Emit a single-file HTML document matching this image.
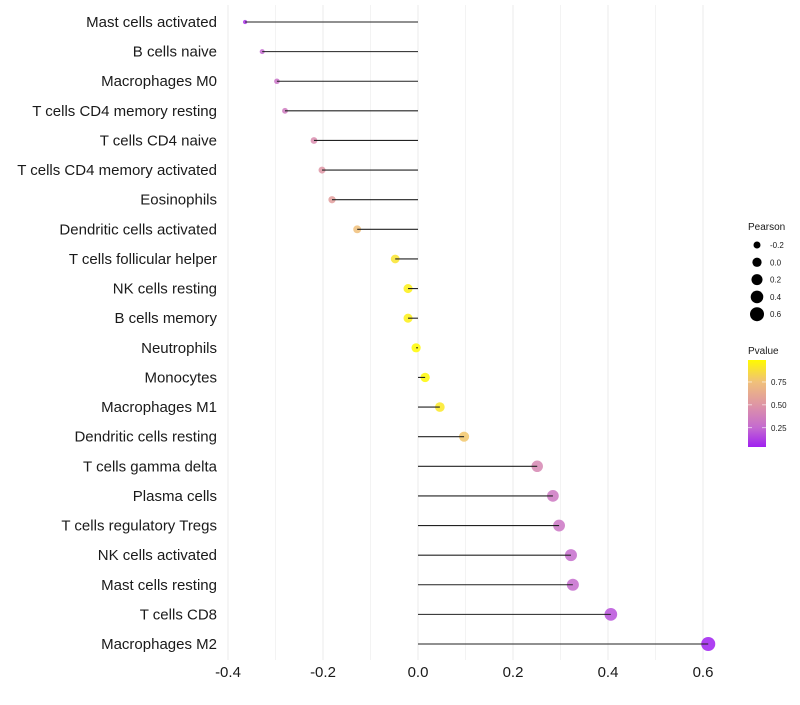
<!DOCTYPE html>
<html><head><meta charset="utf-8"><style>
body{margin:0;background:#fff;font-family:"Liberation Sans",sans-serif}
</style></head><body>
<svg id="chart" width="800" height="700" xmlns="http://www.w3.org/2000/svg" font-family="Liberation Sans, sans-serif"></svg>
<script>
const categories=["Mast cells activated","B cells naive","Macrophages M0","T cells CD4 memory resting","T cells CD4 naive","T cells CD4 memory activated","Eosinophils","Dendritic cells activated","T cells follicular helper","NK cells resting","B cells memory","Neutrophils","Monocytes","Macrophages M1","Dendritic cells resting","T cells gamma delta","Plasma cells","T cells regulatory  Tregs ","NK cells activated","Mast cells resting","T cells CD8","Macrophages M2"];
const pearson=[-0.364,-0.328,-0.297,-0.28,-0.219,-0.202,-0.181,-0.128,-0.048,-0.021,-0.021,-0.004,0.015,0.046,0.097,0.251,0.284,0.297,0.322,0.326,0.406,0.611];
const pvalues=[0.1,0.25,0.3,0.35,0.45,0.5,0.55,0.75,0.9,0.95,0.95,0.99,0.98,0.92,0.78,0.42,0.33,0.32,0.27,0.26,0.18,0.03];
const xTicks=[-0.4,-0.2,0.0,0.2,0.4,0.6];
const xTickLabels=["-0.4","-0.2","0.0","0.2","0.4","0.6"];
const sizeLegend=[-0.2,0.0,0.2,0.4,0.6];
const sizeLegendLabels=["-0.2","0.0","0.2","0.4","0.6"];
const colorLegend=[0.75,0.5,0.25];
const colorLegendLabels=["0.75","0.50","0.25"];

const svg=document.getElementById('chart');
const NS="http://www.w3.org/2000/svg";
const x=v=>418+v*475;
const y=i=>22+i*(622/21);
const rad=v=>Math.sqrt(Math.max(3,21.4+45.9*v));
const stops=[[0.04,[160,32,240]],[0.25,[196,106,208]],[0.5,[222,149,165]],[0.75,[240,192,122]],[0.99,[255,250,0]]];
function col(p){p=Math.max(0.04,Math.min(0.99,p));for(let k=0;k<stops.length-1;k++){const a=stops[k],b=stops[k+1];if(p<=b[0]){const t=(p-a[0])/(b[0]-a[0]);return 'rgb('+a[1].map((c,j)=>Math.round(c+(b[1][j]-c)*t)).join(',')+')';}}return 'rgb(255,250,0)';}
function el(t,a,txt){const e=document.createElementNS(NS,t);for(const k in a)e.setAttribute(k,a[k]);if(txt!==undefined)e.textContent=txt;svg.appendChild(e);return e;}
for(let v=-0.4;v<=0.61;v+=0.1){
 const g=el('line',{x1:x(v),x2:x(v),y1:5,y2:660,stroke:'#ebebeb','stroke-width':Math.abs(Math.round(v*10))%2==0?1:0.6});
 
 
}
categories.forEach((c,i)=>{
 const t=el('text',{x:217,y:y(i)+5,'text-anchor':'end','font-size':15,fill:'#1a1a1a'},c);
 
 
 const d=el('circle',{cx:x(pearson[i]),cy:y(i),r:rad(pearson[i]),fill:col(pvalues[i]),'fill-opacity':0.85});
 
 
 const l=el('line',{x1:x(0),x2:x(pearson[i]),y1:y(i),y2:y(i),stroke:'#222','stroke-width':1.1});
 
 
});
xTicks.forEach((v,i)=>{
 const t=el('text',{x:x(v),y:677,'text-anchor':'middle','font-size':15,fill:'#1a1a1a'},xTickLabels[i]);
 
 
});
const st=el('text',{x:748,y:230,'font-size':10,fill:'#1a1a1a'},'Pearson');


sizeLegend.forEach((v,i)=>{
 const cy=245+i*17.3;
 const c=el('circle',{cx:757,cy:cy,r:rad(v),fill:'#000'});
 
 
 const t=el('text',{x:770,y:cy+3,'font-size':8,fill:'#1a1a1a'},sizeLegendLabels[i]);
 
 
});
const ct=el('text',{x:748,y:354,'font-size':10,fill:'#1a1a1a'},'Pvalue');


const defs=el('defs',{});
const lg=document.createElementNS(NS,'linearGradient');lg.setAttribute('id','pg');lg.setAttribute('x1',0);lg.setAttribute('x2',0);lg.setAttribute('y1',1);lg.setAttribute('y2',0);
stops.forEach(s=>{const o=document.createElementNS(NS,'stop');o.setAttribute('offset',(s[0]-0.04)/0.95);o.setAttribute('stop-color','rgb('+s[1].join(',')+')');lg.appendChild(o);});
defs.appendChild(lg);
const bar=el('rect',{x:748,y:360,width:18,height:87,fill:'url(#pg)'});


const cy=p=>447-(p-0.04)/0.95*87;
colorLegend.forEach((p,i)=>{
 el('line',{x1:748,x2:752,y1:cy(p),y2:cy(p),stroke:'#fff','stroke-width':0.6});
 el('line',{x1:762,x2:766,y1:cy(p),y2:cy(p),stroke:'#fff','stroke-width':0.6});
 const t=el('text',{x:771,y:cy(p)+3,'font-size':8,fill:'#1a1a1a'},colorLegendLabels[i]);
 
 
});
</script>
</body></html>
